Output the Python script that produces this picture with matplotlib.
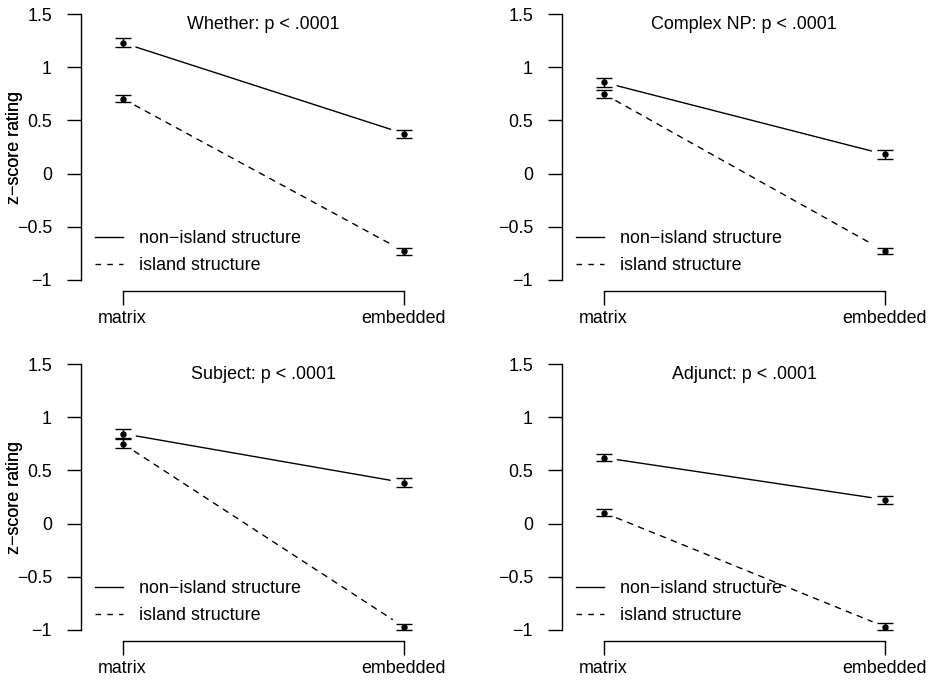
import matplotlib
matplotlib.use("Agg")
import matplotlib.pyplot as plt

plt.rcParams['font.family'] = ['Liberation Sans', 'DejaVu Sans']

categories = ['matrix', 'embedded']
panel_titles = ['Whether: p < .0001', 'Complex NP: p < .0001',
                'Subject: p < .0001', 'Adjunct: p < .0001']

nonisland_means = [[1.23, 0.376], [0.858, 0.18], [0.846, 0.385], [0.62, 0.225]]
nonisland_se = [[0.042, 0.038], [0.040, 0.039], [0.045, 0.040], [0.033, 0.038]]
island_means = [[0.705, -0.73], [0.75, -0.73], [0.752, -0.972], [0.103, -0.97]]
island_se = [[0.035, 0.033], [0.040, 0.030], [0.045, 0.031], [0.034, 0.034]]

yticks = [-1, -0.5, 0, 0.5, 1, 1.5]
ytick_labels = ['\u22121', '\u22120.5', '0', '0.5', '1', '1.5']
legend_labels = ['non\u2212island structure', 'island structure']

FS = 12.9
W, H = 933, 680
fig = plt.figure(figsize=(W / 100, H / 100), dpi=100)

# plot regions in pixels: (left, top, right, bottom)
regions = [(81, 3.4, 445.6, 290.6), (562, 3.4, 926.6, 290.6),
           (81, 353.4, 445.6, 640.6), (562, 353.4, 926.6, 640.6)]

xpos = [1, 2]
for i, (l, t, r, b) in enumerate(regions):
    ax = fig.add_axes([l / W, 1 - b / H, (r - l) / W, (b - t) / H])
    ax.set_xlim(0.852, 2.148)
    ax.set_ylim(-1.1, 1.6)
    for s in ['top', 'right']:
        ax.spines[s].set_visible(False)
    ax.spines['left'].set_bounds(-1, 1.5)
    ax.spines['bottom'].set_bounds(1, 2)
    for s in ['left', 'bottom']:
        ax.spines[s].set_linewidth(1.0)
    ax.set_yticks(yticks)
    ax.set_yticklabels(ytick_labels)
    ax.set_xticks(xpos)
    ax.set_xticklabels(categories)
    ax.tick_params(axis='y', length=10.3, width=1.0, pad=10.5, labelsize=FS)
    ax.tick_params(axis='x', length=10.3, width=1.0, pad=3.5, labelsize=FS)
    ax.set_ylabel('z\u2212score rating', fontsize=FS, va='center')
    ax.yaxis.set_label_coords((15 - l) / (r - l), 0.5)

    for means, se, ls in [(nonisland_means[i], nonisland_se[i], '-'),
                          (island_means[i], island_se[i], (0, (4, 4.5)))]:
        ax.annotate('', xy=(xpos[1], means[1]), xytext=(xpos[0], means[0]),
                    arrowprops=dict(arrowstyle='-', linestyle=ls, lw=1.0,
                                    color='black', shrinkA=10, shrinkB=10))
        ax.errorbar(xpos, means, yerr=se, fmt='o', color='black',
                    markersize=3.6, elinewidth=1.0, capsize=6.1,
                    capthick=1.0)
    # legend proxies
    h1, = ax.plot([], [], color='black', lw=1.0, ls='-')
    h2, = ax.plot([], [], color='black', lw=1.0, ls=(0, (4, 4.5)))
    ax.legend([h1, h2], legend_labels, loc='center left',
              bbox_to_anchor=(14 / (r - l), 38.5 / (b - t)),
              frameon=False, fontsize=FS, handlelength=1.55,
              handletextpad=0.88, labelspacing=0.55, borderpad=0,
              borderaxespad=0)
    ax.text(1.5, 1.4, panel_titles[i], ha='center', va='center', fontsize=FS)

fig.savefig('out.png', dpi=100)
